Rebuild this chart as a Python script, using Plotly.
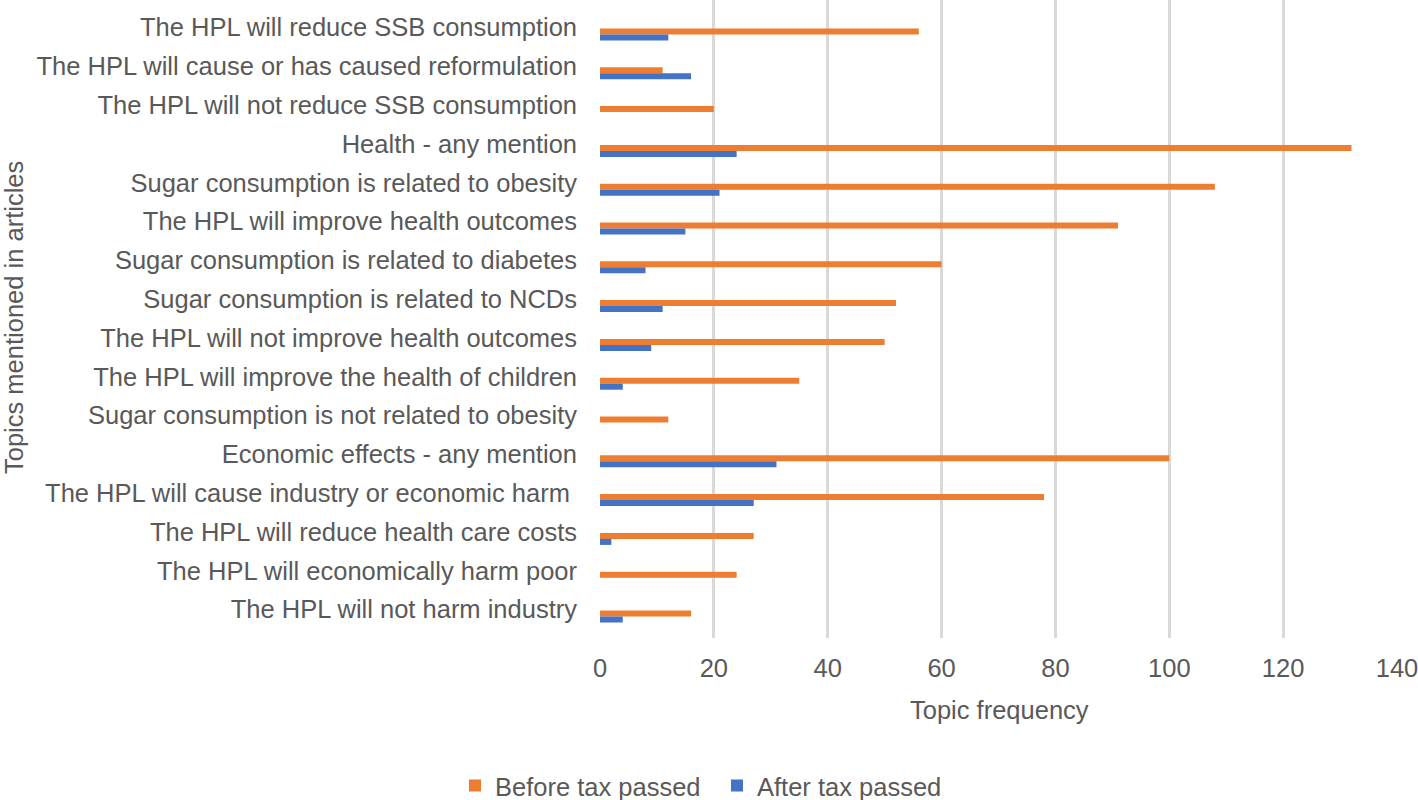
import plotly.graph_objects as go

topics = [
    "The HPL will reduce SSB consumption",
    "The HPL will cause or has caused reformulation",
    "The HPL will not reduce SSB consumption",
    "Health - any mention",
    "Sugar consumption is related to obesity",
    "The HPL will improve health outcomes",
    "Sugar consumption is related to diabetes",
    "Sugar consumption is related to NCDs",
    "The HPL will not improve health outcomes",
    "The HPL will improve the health of children",
    "Sugar consumption is not related to obesity",
    "Economic effects - any mention",
    "The HPL will cause industry or economic harm ",
    "The HPL will reduce health care costs",
    "The HPL will economically harm poor",
    "The HPL will not harm industry",
]
before_tax = [56, 11, 20, 132, 108, 91, 60, 52, 50, 35, 12, 100, 78, 27, 24, 16]
after_tax = [12, 16, 0, 24, 21, 15, 8, 11, 9, 4, 0, 31, 27, 2, 0, 4]
x_ticks = [0, 20, 40, 60, 80, 100, 120, 140]

FONT = "Liberation Sans, Arial, sans-serif"
TXT = "#595959"
FS = 25.5

fig = go.Figure()
fig.add_trace(go.Bar(y=topics, x=before_tax, orientation="h", name="Before tax passed",
                     marker=dict(color="#ED7D31", line=dict(width=0))))
fig.add_trace(go.Bar(y=topics, x=after_tax, orientation="h", name="After tax passed",
                     marker=dict(color="#4472C4", line=dict(width=0))))

fig.update_layout(
    width=1418, height=800,
    margin=dict(l=600, r=21, t=0, b=162, pad=0, autoexpand=False),
    paper_bgcolor="white", plot_bgcolor="white",
    barmode="group", bargap=0.69, bargroupgap=0,
    font=dict(family=FONT, size=FS, color=TXT),
    showlegend=True,
    legend=dict(orientation="h", x=(455 - 600) / 797, xanchor="left",
                yref="container", y=1 - 786 / 800, yanchor="middle",
                font=dict(size=FS, color=TXT), itemwidth=30, traceorder="normal",
                entrywidth=217, entrywidthmode="pixels"),
    xaxis=dict(range=[0, 140], tickvals=x_ticks, showgrid=True, gridcolor="#d9d9d9",
               gridwidth=2.5, zeroline=False, showline=False, ticks="",
               tickfont=dict(size=FS, color=TXT), ticklabelstandoff=12,
               ticklabeloverflow="allow", automargin=False),
    yaxis=dict(range=[15.554, -0.889], showgrid=False, zeroline=False, showline=False,
               ticks="", tickfont=dict(size=FS, color=TXT), ticklabelstandoff=22,
               ticklabelshift=7, automargin=False),
)

fig.add_annotation(text="Topic frequency", xref="paper", yref="paper",
                   x=(999 - 600) / 797, y=(638 - 710) / 638, xanchor="center", yanchor="middle",
                   showarrow=False, font=dict(size=FS, color=TXT))
fig.add_annotation(text="Topics mentioned in articles", xref="paper", yref="paper",
                   x=(14 - 600) / 797, y=(638 - 318) / 638, xanchor="center", yanchor="middle",
                   textangle=-90, showarrow=False, font=dict(size=FS, color=TXT))

fig.write_html("out.html", config={"displayModeBar": False},
               post_script="document.body.style.margin='0';")
